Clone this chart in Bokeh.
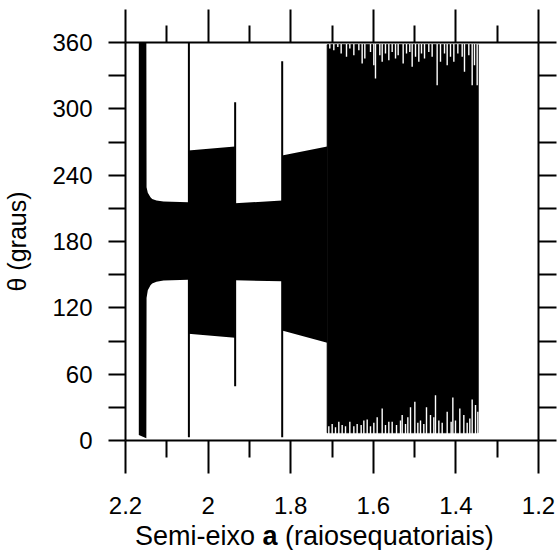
from bokeh.plotting import figure
from bokeh.layouts import column
from bokeh.models import Range1d, FixedTicker, LinearAxis, CustomJSTickFormatter, Div
from bokeh.embed import file_html
from bokeh.resources import INLINE

# ---------------- data ----------------
# envelope of the oscillating angle theta (degrees) vs semi-axis a
a_env = [2.1678, 2.1495, 2.1490, 2.1460, 2.1395, 2.1354, 2.1250, 2.1080, 2.0480,
         2.0480, 1.9350, 1.9350, 1.8210, 1.8210, 1.7116]
theta_low = [5, 2, 129, 136, 140.5, 142, 143.5, 144.7, 145.3,
             96.5, 92.9, 145, 144, 99.5, 88.4]
theta_high = [360, 360, 229, 224, 220, 218.5, 217, 216.2, 215.6,
              262.3, 266, 214.6, 217, 257.8, 265.9]

# isolated vertical excursions
spike_a = [2.0465, 1.9345, 1.8206]
spike_low = [3, 49, 3]
spike_high = [360, 306, 343]

# chaotic region: full circulation band
chaos_a = [1.7116, 1.346]
chaos_theta = [7, 358]

# white notches from the top of the chaotic band (theta reached)
notch_a = [1.7053, 1.6956, 1.6859, 1.6778, 1.6649, 1.6568, 1.6471, 1.6350, 1.6270,
           1.6205, 1.6068, 1.5987, 1.5947, 1.5842, 1.5785, 1.5705, 1.5624, 1.5543,
           1.5462, 1.5398, 1.5277, 1.5196, 1.5116, 1.5059, 1.4978, 1.4898, 1.4833,
           1.4760, 1.4656, 1.4575, 1.4454, 1.4373, 1.4276, 1.4211, 1.4131, 1.4050,
           1.3953, 1.3848, 1.3792, 1.3687, 1.3606, 1.3550, 1.3485]
notch_theta = [354.6, 353, 356, 350, 347, 354.6, 348.5, 353, 341,
               345.5, 351.5, 339.5, 327.4, 348.5, 342.5, 350, 344, 351.5,
               345.5, 348.5, 341, 350, 351.5, 338, 347, 342.5, 350,
               345.5, 351.5, 347, 321.4, 342.5, 350, 339.5, 347, 342.5,
               350, 347, 333.5, 348.5, 321.4, 339.5, 321.4]

# white spikes rising from the bottom of the chaotic band (theta reached)
rise_a = [1.7077, 1.6996, 1.6915, 1.6835, 1.6754, 1.6673, 1.6568, 1.6471, 1.6391,
          1.6294, 1.6229, 1.6148, 1.6068, 1.5987, 1.5906, 1.5785, 1.5705, 1.5624,
          1.5543, 1.5438, 1.5341, 1.5301, 1.5220, 1.5164, 1.5099, 1.4994, 1.4922,
          1.4857, 1.4777, 1.4712, 1.4615, 1.4534, 1.4494, 1.4413, 1.4332, 1.4211,
          1.4115, 1.4074, 1.4010, 1.3905, 1.3808, 1.3727, 1.3663, 1.3606, 1.3525,
          1.3469]
rise_theta = [13, 15, 12, 17, 14, 13, 17, 13, 15,
              14, 18, 19, 13, 16, 21, 29, 14, 17,
              17, 14, 18, 23, 15, 21, 30, 35, 16,
              18, 15, 30, 23, 21, 41, 18, 16, 26,
              17, 39, 18, 29, 23, 16, 20, 37, 32,
              26]

x_ticks = [2.2, 2.0, 1.8, 1.6, 1.4, 1.2]
x_minor = [2.1, 1.9, 1.7, 1.5, 1.3]
y_ticks = [0, 60, 120, 180, 240, 300, 360]
y_minor = [30, 90, 150, 210, 270, 330]
y_right_ticks = [0, 30, 60, 90, 120, 150, 180, 210, 240, 270, 300, 330, 360]

y_title = "θ (graus)"
x_title_html = "Semi-eixo <b>a</b> (raiosequatoriais)"

FONT = "Liberation Sans"

# ---------------- figure ----------------
fig = figure(frame_width=413, frame_height=398,
             x_range=Range1d(2.2, 1.2), y_range=Range1d(0, 360),
             output_backend="svg", toolbar_location=None,
             x_axis_location=None, y_axis_location=None,
             min_border_left=125, min_border_right=21,
             min_border_top=42, min_border_bottom=80)
fig.grid.visible = False
fig.outline_line_color = None
fig.background_fill_color = "white"
fig.border_fill_color = "white"


def style(ax, tick_out, minor_out, labels=True, standoff=0):
    ax.axis_line_width = 2
    ax.axis_line_color = "black"
    ax.major_tick_line_width = 2
    ax.minor_tick_line_width = 2
    ax.major_tick_line_color = "black"
    ax.minor_tick_line_color = "black"
    ax.major_tick_in = 0
    ax.minor_tick_in = 0
    ax.major_tick_out = tick_out
    ax.minor_tick_out = minor_out
    ax.major_label_standoff = standoff
    ax.major_label_text_font = FONT
    ax.major_label_text_color = "black"
    ax.major_label_text_font_size = "24px" if labels else "1px"


fmt = CustomJSTickFormatter(code="return String(Math.round(tick*10)/10);")
blank = CustomJSTickFormatter(code="return '';")

left = LinearAxis(ticker=FixedTicker(ticks=y_ticks, minor_ticks=y_minor),
                  axis_label=y_title)
style(left, 17, 17, True, 16)
left.axis_label_text_font = FONT
left.axis_label_text_font_size = "25px"
left.axis_label_text_font_style = "normal"
left.axis_label_text_color = "black"
left.axis_label_standoff = 18
fig.add_layout(left, "left")

right = LinearAxis(ticker=FixedTicker(ticks=y_right_ticks, minor_ticks=[]), formatter=blank)
style(right, 18, 0, False, 0)
fig.add_layout(right, "right")

bottom = LinearAxis(ticker=FixedTicker(ticks=x_ticks, minor_ticks=x_minor), formatter=fmt)
style(bottom, 33, 17, True, 23)
fig.add_layout(bottom, "below")

top = LinearAxis(ticker=FixedTicker(ticks=x_ticks, minor_ticks=x_minor), formatter=blank)
style(top, 33, 17, False, 0)
fig.add_layout(top, "above")

# ---------------- marks ----------------
fig.varea(x=a_env, y1=theta_low, y2=theta_high, fill_color="black")
fig.quad(left=[chaos_a[0]], right=[chaos_a[1]], bottom=[chaos_theta[0]], top=[chaos_theta[1]],
         fill_color="black", line_color="black", line_width=1)
fig.segment(x0=notch_a, y0=[360] * len(notch_a), x1=notch_a, y1=notch_theta,
            line_color="white", line_width=1.4)
fig.segment(x0=rise_a, y0=[0] * len(rise_a), x1=rise_a, y1=rise_theta,
            line_color="white", line_width=1.4)
fig.segment(x0=spike_a, y0=spike_low, x1=spike_a, y1=spike_high,
            line_color="black", line_width=2)

# ---------------- x title (mixed weight) ----------------
title = Div(text=x_title_html, width=559, height=30, margin=(0, 0, 0, 0),
            styles={"font-family": FONT, "font-size": "27px", "line-height": "26px",
                    "color": "black", "padding-left": "135px", "padding-top": "3px",
                    "white-space": "nowrap"})

p = column(fig, title, spacing=0)

open("out.html", "w").write(file_html(p, INLINE))
